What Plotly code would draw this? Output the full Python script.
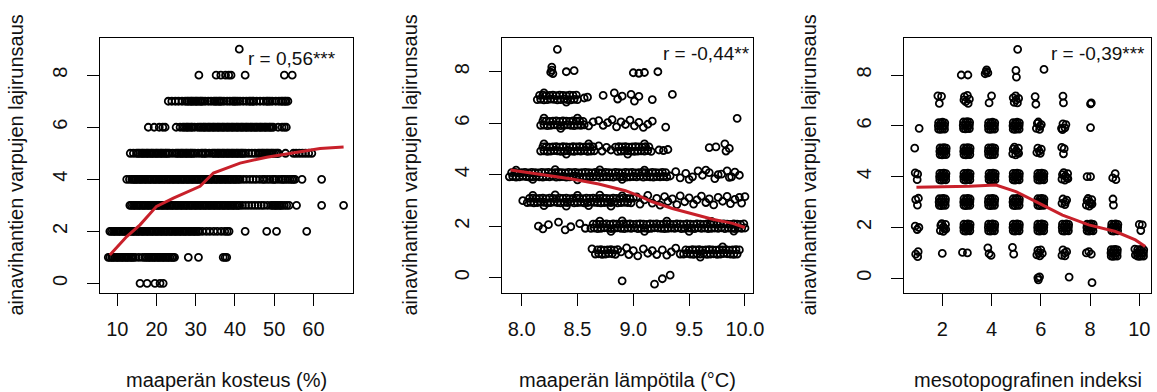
import plotly.graph_objects as go

W, H = 1157, 392

# ================= Panel 1: soil moisture (%) vs. richness (one x-list per richness level)
P1_LEVELS = [0, 1, 2, 3, 4, 5, 6, 7, 8, 9]
P1_X_R0 = [15.8, 17.6, 19.6, 20.9, 21.7]
P1_X_R1 = [7.7, 8.1, 8.6, 8.9, 9.3, 9.8, 10.1, 10.5, 11.0, 11.3, 11.7, 12.2, 12.5, 12.9, 13.4,
           13.7, 14.1, 14.6, 15.5, 16.4, 17.0, 17.4, 17.9, 18.2, 18.6, 19.1, 19.4, 19.8, 20.3,
           20.6, 21.0, 21.5, 21.8, 22.2, 22.7, 23.0, 23.4, 23.9, 24.2, 24.6, 28.1, 30.7, 37.0,
           37.5, 37.9]
P1_X_R2 = [8.1, 8.5, 9.0, 9.3, 9.7, 10.2, 10.5, 10.9, 11.4, 11.7, 12.1, 12.6, 12.9, 13.3, 13.8,
           14.1, 14.5, 15.0, 15.3, 15.7, 16.2, 16.5, 16.9, 17.4, 17.7, 18.1, 18.6, 18.9, 19.3,
           19.8, 20.1, 20.5, 21.0, 21.3, 21.7, 22.2, 22.5, 22.9, 23.4, 23.7, 24.1, 24.6, 24.9,
           25.3, 25.8, 26.1, 26.5, 27.0, 27.3, 27.7, 28.2, 28.5, 28.9, 29.4, 29.7, 30.1, 30.6,
           30.9, 31.7, 32.7, 33.6, 34.6, 35.5, 36.5, 37.4, 38.0, 38.5, 42.6, 48.1, 50.6, 58.3]
P1_X_R3 = [13.2, 13.6, 14.1, 14.4, 14.8, 15.3, 15.6, 16.0, 16.5, 16.8, 17.2, 17.7, 18.0, 18.4,
           18.9, 19.2, 19.6, 20.1, 20.4, 20.8, 21.3, 21.6, 22.0, 22.5, 22.8, 23.2, 23.7, 24.0,
           24.4, 24.9, 25.2, 25.6, 26.1, 26.4, 26.8, 27.3, 27.6, 28.0, 28.5, 28.8, 29.2, 29.7,
           30.0, 30.4, 30.9, 31.2, 31.6, 32.1, 32.4, 32.8, 33.3, 33.6, 34.0, 34.5, 34.8, 35.2,
           35.7, 36.0, 36.4, 36.9, 37.2, 37.6, 38.1, 38.4, 38.8, 39.3, 39.6, 40.0, 40.5, 40.8,
           41.2, 41.9, 42.7, 43.5, 44.3, 45.1, 45.9, 46.7, 47.4, 48.3, 49.2, 49.6, 50.1, 50.4,
           50.8, 51.3, 51.6, 52.0, 52.6, 53.2, 53.8, 55.7, 62.1, 67.7]
P1_X_R4 = [12.4, 13.1, 13.7, 14.1, 14.5, 14.8, 15.2, 15.7, 16.0, 16.4, 16.9, 17.2, 17.6, 18.1,
           18.4, 18.8, 19.3, 19.6, 20.0, 20.5, 20.8, 21.2, 21.7, 22.0, 22.4, 22.9, 23.2, 23.6,
           24.1, 24.4, 24.8, 25.3, 25.6, 26.0, 26.5, 26.8, 27.2, 27.7, 28.0, 28.4, 28.9, 29.2,
           29.6, 30.1, 30.4, 30.8, 31.3, 31.6, 32.0, 32.5, 32.8, 33.2, 33.7, 34.0, 34.4, 34.9,
           35.2, 35.6, 36.1, 36.4, 36.8, 37.3, 37.6, 38.0, 38.5, 38.8, 39.2, 39.7, 40.0, 40.4,
           40.9, 41.3, 42.1, 42.9, 43.8, 44.6, 45.4, 46.3, 47.1, 47.5, 48.2, 48.9, 49.6, 50.0,
           50.4, 51.2, 51.9, 52.3, 52.8, 53.4, 54.0, 54.5, 54.9, 55.3, 57.1, 62.1]
P1_X_R5 = [13.3, 14.1, 14.9, 15.3, 15.7, 16.2, 16.5, 16.9, 17.4, 17.7, 18.1, 18.6, 18.9, 19.3,
           19.8, 20.1, 20.5, 21.0, 21.3, 21.7, 22.2, 22.5, 22.9, 23.3, 24.1, 24.9, 25.3, 25.7,
           26.2, 26.5, 26.9, 27.4, 27.7, 28.1, 28.6, 28.9, 29.3, 29.8, 30.6, 31.4, 31.8, 32.3,
           32.6, 33.4, 34.2, 34.6, 35.0, 35.5, 35.8, 36.2, 36.7, 37.0, 37.4, 37.9, 38.2, 38.6,
           39.1, 39.4, 39.8, 40.3, 40.6, 41.0, 41.5, 41.8, 42.2, 42.7, 43.5, 44.3, 45.1, 45.9,
           46.3, 46.8, 47.1, 47.5, 48.0, 48.3, 48.7, 49.2, 49.5, 49.9, 50.4, 50.8, 51.1, 52.9,
           54.9, 55.6, 56.4, 57.2, 58.0, 58.8, 59.6]
P1_X_R6 = [17.9, 19.4, 20.7, 21.6, 22.2, 25.0, 26.0, 26.7, 27.1, 27.6, 27.9, 28.3, 28.8, 29.1,
           29.7, 30.5, 31.0, 31.4, 31.9, 32.2, 32.6, 33.1, 33.4, 33.8, 34.3, 34.6, 35.0, 35.5,
           35.8, 36.2, 36.7, 37.0, 37.4, 37.9, 38.2, 38.6, 39.1, 39.4, 39.8, 40.3, 40.6, 41.0,
           41.5, 41.8, 42.2, 42.7, 43.0, 43.4, 43.9, 44.2, 44.6, 45.1, 45.4, 45.8, 46.3, 46.6,
           47.0, 47.5, 47.8, 48.2, 48.7, 49.0, 49.4, 49.8, 51.0, 52.0, 52.6, 53.1]
P1_X_R7 = [23.0, 23.9, 24.8, 25.6, 26.5, 27.3, 27.8, 28.2, 28.7, 29.0, 29.4, 29.9, 30.2, 30.6,
           31.1, 31.4, 31.8, 32.4, 33.2, 33.9, 34.6, 35.0, 35.4, 35.9, 36.2, 36.6, 37.2, 38.0,
           38.7, 39.4, 39.8, 40.2, 40.7, 41.3, 42.1, 42.9, 43.6, 44.0, 44.5, 44.8, 45.5, 46.4,
           47.3, 48.0, 48.4, 48.9, 49.5, 50.4, 51.2, 51.8, 52.2, 52.7, 53.0, 53.5]
P1_X_R8 = [30.8, 35.2, 36.4, 37.6, 38.4, 39.0, 42.6, 52.6, 54.6]
P1_X_R9 = [41.1]
P1_SMOOTH_X = [8.1, 12.4, 15.8, 20.0, 24.3, 31.1, 34.5, 41.3, 48.1, 54.9, 61.7, 67.7]
P1_SMOOTH_Y = [1.09, 1.80, 2.25, 2.96, 3.28, 3.73, 4.24, 4.62, 4.85, 5.01, 5.18, 5.24]

# ================= Panel 2: soil temperature (°C) vs. richness (jittered)
# dense bands as x / y lists, scattered points as (x, y) pairs
P2_R1_X = [8.66, 8.68, 8.69, 8.71, 8.72, 8.74, 8.75, 8.77, 8.78, 8.80,
           8.81, 8.83, 8.84, 8.86, 9.45, 9.47, 9.48, 9.50, 9.51, 9.53,
           9.54, 9.56, 9.57, 9.59, 9.60, 9.62, 9.63, 9.65, 9.66, 9.68,
           9.69, 9.71, 9.72, 9.74, 9.75, 9.77, 9.78, 9.80, 9.81, 9.83,
           9.84, 9.86, 9.87, 9.89, 9.90, 9.92, 9.93, 9.95]
P2_R1_Y = [0.92, 1.08, 0.93, 1.09, 0.91, 1.07, 0.92, 1.08, 0.94, 1.09,
           0.93, 1.07, 0.91, 1.09, 0.92, 1.08, 0.94, 1.07, 0.92, 1.09,
           0.91, 1.08, 0.93, 1.09, 0.92, 1.07, 0.94, 1.08, 0.91, 1.09,
           0.92, 1.08, 0.93, 1.07, 0.91, 1.09, 0.92, 1.08, 0.94, 1.09,
           0.93, 1.07, 0.92, 1.08, 0.91, 1.09, 0.92, 1.08]
P2_R1_PTS = [(8.63, 1.12), (8.89, 1.00), (8.94, 1.16), (8.96, 0.90), (9.00, 1.05), (9.04, 0.85),
             (9.09, 1.12), (9.13, 0.95), (9.17, 1.05), (9.21, 0.90), (9.26, 1.08), (9.30, 0.88),
             (9.34, 1.00), (9.38, 1.15), (9.42, 0.92), (9.60, 0.80), (9.80, 1.20)]
P2_R2_X = [8.62, 8.64, 8.65, 8.67, 8.68, 8.70, 8.71, 8.73, 8.74, 8.76,
           8.77, 8.79, 8.80, 8.82, 8.83, 8.85, 8.86, 8.88, 8.89, 8.91,
           8.92, 8.94, 8.95, 8.97, 8.98, 9.00, 9.01, 9.03, 9.04, 9.06,
           9.07, 9.09, 9.10, 9.12, 9.13, 9.15, 9.16, 9.18, 9.19, 9.21,
           9.22, 9.24, 9.25, 9.27, 9.28, 9.30, 9.31, 9.33, 9.34, 9.36,
           9.37, 9.39, 9.40, 9.42, 9.43, 9.45, 9.46, 9.48, 9.49, 9.51,
           9.52, 9.54, 9.55, 9.57, 9.58, 9.60, 9.61, 9.63, 9.64, 9.66,
           9.67, 9.69, 9.70, 9.72, 9.73, 9.75, 9.76, 9.78, 9.79, 9.81,
           9.82, 9.84, 9.85, 9.87, 9.88, 9.90, 9.91, 9.93, 9.94, 9.96,
           9.97, 9.99, 10.00]
P2_R2_Y = [1.92, 2.08, 1.93, 2.09, 1.91, 2.07, 1.92, 2.08, 1.94, 2.09,
           1.93, 2.07, 1.91, 2.09, 1.92, 2.08, 1.94, 2.07, 1.92, 2.09,
           1.91, 2.08, 1.93, 2.09, 1.92, 2.07, 1.94, 2.08, 1.91, 2.09,
           1.92, 2.08, 1.93, 2.07, 1.91, 2.09, 1.92, 2.08, 1.94, 2.09,
           1.93, 2.07, 1.92, 2.08, 1.91, 2.09, 1.92, 2.08, 1.93, 2.07,
           1.92, 2.09, 1.94, 2.08, 1.91, 2.07, 1.92, 2.09, 1.93, 2.08,
           1.92, 2.07, 1.91, 2.09, 1.94, 2.08, 1.92, 2.07, 1.93, 2.09,
           1.91, 2.08, 1.92, 2.09, 1.93, 2.07, 1.92, 2.08, 1.94, 2.09,
           1.91, 2.08, 1.93, 2.07, 1.92, 2.09, 1.91, 2.08, 1.93, 2.07,
           1.92, 2.09, 1.93]
P2_R2_PTS = [(8.15, 2.00), (8.19, 1.90), (8.24, 2.06), (8.33, 2.16), (8.39, 1.86), (8.44, 1.98),
             (8.52, 2.10), (8.57, 1.92), (8.70, 2.20), (8.80, 1.80), (8.90, 2.21), (9.10, 1.80),
             (9.30, 2.20), (9.50, 1.80), (9.70, 2.19), (9.90, 1.81)]
P2_R3_X = [8.05, 8.07, 8.08, 8.10, 8.11, 8.13, 8.14, 8.16, 8.17, 8.19,
           8.20, 8.22, 8.23, 8.25, 8.26, 8.28, 8.29, 8.31, 8.32, 8.34,
           8.35, 8.37, 8.38, 8.40, 8.41, 8.43, 8.44, 8.46, 8.47, 8.49,
           8.50, 8.52, 8.53, 8.55, 8.56, 8.58, 8.59, 8.61, 8.62, 8.64,
           8.65, 8.67, 8.68, 8.70, 8.71, 8.73, 8.74, 8.76, 8.77, 8.79,
           8.80, 8.82, 8.83, 8.85, 8.86, 8.88, 8.89, 8.91, 8.92, 8.94,
           8.95, 8.97, 8.98, 9.00]
P2_R3_Y = [2.92, 3.08, 2.93, 3.09, 2.91, 3.07, 2.92, 3.08, 2.94, 3.09,
           2.93, 3.07, 2.91, 3.09, 2.92, 3.08, 2.94, 3.07, 2.92, 3.09,
           2.91, 3.08, 2.93, 3.09, 2.92, 3.07, 2.94, 3.08, 2.91, 3.09,
           2.92, 3.08, 2.93, 3.07, 2.91, 3.09, 2.92, 3.08, 2.94, 3.09,
           2.93, 3.07, 2.92, 3.08, 2.91, 3.09, 2.92, 3.08, 2.93, 3.07,
           2.92, 3.09, 2.94, 3.08, 2.91, 3.07, 2.92, 3.09, 2.93, 3.08,
           2.92, 3.07, 2.91, 3.09]
P2_R3_PTS = [(8.01, 2.99), (8.10, 3.20), (8.20, 2.80), (8.30, 3.22), (8.40, 2.78), (8.50, 3.20),
             (8.60, 2.80), (8.70, 3.21), (8.80, 2.78), (8.90, 3.18),
             (9.03, 3.14), (9.06, 2.86), (9.10, 3.02), (9.13, 3.20), (9.17, 2.90), (9.21, 3.08),
             (9.24, 2.82), (9.28, 3.15), (9.31, 2.96), (9.35, 3.06), (9.39, 2.84), (9.42, 3.18),
             (9.46, 2.95), (9.50, 3.10), (9.54, 2.86), (9.57, 3.02), (9.61, 3.17), (9.65, 2.92),
             (9.68, 3.06), (9.72, 2.83), (9.76, 3.12), (9.80, 2.97), (9.84, 3.16), (9.87, 2.88),
             (9.91, 3.04), (9.95, 3.12), (9.97, 2.90), (10.00, 3.15)]
P2_R4_X = [7.89, 7.91, 7.92, 7.94, 7.95, 7.97, 7.98, 8.00, 8.01, 8.03,
           8.04, 8.06, 8.07, 8.09, 8.10, 8.12, 8.13, 8.15, 8.16, 8.18,
           8.19, 8.21, 8.22, 8.24, 8.25, 8.27, 8.28, 8.30, 8.31, 8.33,
           8.34, 8.36, 8.37, 8.39, 8.40, 8.42, 8.43, 8.45, 8.46, 8.48,
           8.49, 8.51, 8.52, 8.54, 8.55, 8.57, 8.58, 8.60, 8.61, 8.63,
           8.64, 8.66, 8.67, 8.69, 8.70, 8.72, 8.73, 8.75, 8.76, 8.78,
           8.79, 8.81, 8.82, 8.84, 8.85, 8.87, 8.88, 8.90, 8.91, 8.93,
           8.94, 8.96, 8.97, 8.99, 9.00, 9.02, 9.03, 9.05, 9.06, 9.08,
           9.09, 9.11, 9.12, 9.14, 9.15, 9.17, 9.18, 9.20, 9.21, 9.23,
           9.24, 9.26, 9.27, 9.29, 9.30]
P2_R4_Y = [3.92, 4.08, 3.93, 4.09, 3.91, 4.07, 3.92, 4.08, 3.94, 4.09,
           3.93, 4.07, 3.91, 4.09, 3.92, 4.08, 3.94, 4.07, 3.92, 4.09,
           3.91, 4.08, 3.93, 4.09, 3.92, 4.07, 3.94, 4.08, 3.91, 4.09,
           3.92, 4.08, 3.93, 4.07, 3.91, 4.09, 3.92, 4.08, 3.94, 4.09,
           3.93, 4.07, 3.92, 4.08, 3.91, 4.09, 3.92, 4.08, 3.93, 4.07,
           3.92, 4.09, 3.94, 4.08, 3.91, 4.07, 3.92, 4.09, 3.93, 4.08,
           3.92, 4.07, 3.91, 4.09, 3.94, 4.08, 3.92, 4.07, 3.93, 4.09,
           3.91, 4.08, 3.92, 4.09, 3.93, 4.07, 3.92, 4.08, 3.94, 4.09,
           3.91, 4.08, 3.93, 4.07, 3.92, 4.09, 3.91, 4.08, 3.93, 4.07,
           3.92, 4.09, 3.93, 4.08, 3.92]
P2_R4_PTS = [(7.95, 4.18), (8.10, 3.82), (8.30, 4.20), (8.50, 3.80), (8.70, 4.19), (8.90, 3.82),
             (9.10, 4.18), (9.33, 3.95), (9.38, 4.12), (9.42, 3.88), (9.47, 4.05), (9.50, 3.82),
             (9.53, 3.92), (9.58, 4.15), (9.62, 3.98), (9.65, 4.18), (9.68, 4.08), (9.73, 3.85),
             (9.76, 4.00), (9.79, 4.02), (9.84, 4.15), (9.86, 3.90), (9.88, 3.92), (9.91, 4.10),
             (9.95, 3.98)]
P2_R5_X = [8.17, 8.19, 8.20, 8.22, 8.23, 8.25, 8.26, 8.28, 8.29, 8.31,
           8.32, 8.34, 8.35, 8.37, 8.38, 8.40, 8.41, 8.43, 8.44, 8.46,
           8.47, 8.49, 8.50, 8.52, 8.53, 8.55, 8.56, 8.58, 8.59, 8.61,
           8.62, 8.64, 8.65, 8.84, 8.86, 8.87, 8.89, 8.90, 8.92, 8.93,
           8.95, 8.96, 8.98, 8.99, 9.01, 9.02, 9.04, 9.05, 9.07, 9.08,
           9.10, 9.11, 9.13, 9.14, 9.16]
P2_R5_Y = [4.92, 5.08, 4.93, 5.09, 4.91, 5.07, 4.92, 5.08, 4.94, 5.09,
           4.93, 5.07, 4.91, 5.09, 4.92, 5.08, 4.94, 5.07, 4.92, 5.09,
           4.91, 5.08, 4.93, 5.09, 4.92, 5.07, 4.94, 5.08, 4.91, 5.09,
           4.92, 5.08, 4.93, 5.07, 4.91, 5.09, 4.92, 5.08, 4.94, 5.09,
           4.93, 5.07, 4.92, 5.08, 4.91, 5.09, 4.92, 5.08, 4.93, 5.07,
           4.92, 5.09, 4.94, 5.08, 4.91]
P2_R5_PTS = [(8.69, 5.12), (8.72, 4.92), (8.76, 5.06), (8.80, 4.96), (9.23, 4.96), (9.27, 4.94),
             (9.31, 4.98), (9.68, 5.05), (9.74, 5.08), (9.82, 5.20), (9.83, 4.92), (9.86, 5.02),
             (8.20, 5.20), (8.40, 4.80), (8.60, 5.20), (8.95, 4.80), (9.10, 5.20)]
P2_R6_X = [8.17, 8.19, 8.20, 8.22, 8.23, 8.25, 8.26, 8.28, 8.29, 8.31,
           8.32, 8.34, 8.35, 8.37, 8.38, 8.40, 8.41, 8.43, 8.44, 8.46,
           8.47, 8.49, 8.50, 8.52, 8.53, 8.55, 8.56]
P2_R6_Y = [5.92, 6.08, 5.93, 6.09, 5.91, 6.07, 5.92, 6.08, 5.94, 6.09,
           5.93, 6.07, 5.91, 6.09, 5.92, 6.08, 5.94, 6.07, 5.92, 6.09,
           5.91, 6.08, 5.93, 6.09, 5.92, 6.07, 5.94]
P2_R6_PTS = [(8.20, 6.20), (8.35, 5.80), (8.50, 6.20), (8.60, 5.90), (8.64, 6.05), (8.69, 6.10),
             (8.73, 5.92), (8.77, 6.02), (8.81, 6.14), (8.85, 5.86), (8.89, 6.05), (8.93, 5.95),
             (8.97, 6.12), (9.01, 5.90), (9.05, 6.03), (9.09, 5.84), (9.13, 5.96), (9.17, 6.08),
             (9.29, 5.85), (9.93, 6.19)]
P2_R7_X = [8.14, 8.16, 8.17, 8.19, 8.20, 8.22, 8.23, 8.25, 8.26, 8.28,
           8.29, 8.31, 8.32, 8.34, 8.35, 8.37, 8.38, 8.40, 8.41, 8.43,
           8.44, 8.46, 8.47, 8.49, 8.50]
P2_R7_Y = [6.92, 7.08, 6.93, 7.09, 6.91, 7.07, 6.92, 7.08, 6.94, 7.09,
           6.93, 7.07, 6.91, 7.09, 6.92, 7.08, 6.94, 7.07, 6.92, 7.09,
           6.91, 7.08, 6.93, 7.09, 6.92]
P2_R7_PTS = [(8.56, 6.98), (8.59, 7.01), (8.73, 7.08), (8.83, 7.18), (8.86, 6.94), (8.90, 7.05),
             (8.98, 7.12), (9.01, 6.86), (9.05, 7.04), (9.17, 6.92), (9.35, 7.12), (8.20, 7.18),
             (8.40, 6.82)]
P2_OTHER_PTS = [(8.90, -0.12), (9.19, -0.25), (9.26, -0.04), (9.33, 0.10),
                (8.27, 8.18), (8.27, 8.06), (8.28, 7.93), (8.26, 7.98), (8.40, 8.00), (8.47, 8.04),
                (9.00, 7.96), (9.05, 7.94), (9.10, 7.97), (9.22, 8.00), (8.32, 8.87)]
P2_SMOOTH_X = [7.90, 8.27, 8.45, 8.69, 8.93, 9.05, 9.17, 9.35, 9.53, 9.71, 9.89, 10.00]
P2_SMOOTH_Y = [4.18, 3.96, 3.83, 3.64, 3.38, 3.18, 2.95, 2.69, 2.47, 2.27, 2.11, 1.95]

# ================= Panel 3: mesotopographic index vs. richness (both jittered), pairs per level
P3_R0 = [(5.88, 0.02), (5.95, 0.06), (5.90, -0.06), (7.15, 0.05), (8.08, -0.17)]
P3_R1 = [(0.92, 0.95), (1.02, 1.05), (1.00, 0.85), (2.00, 0.98), (2.82, 1.02), (3.02, 1.00),
         (3.85, 1.20), (3.90, 0.97), (3.98, 0.90), (4.85, 1.22), (4.90, 0.95),
         (5.84, 0.92), (5.96, 0.88), (6.06, 0.98), (5.88, 1.10), (6.00, 1.12), (5.92, 1.00),
         (6.86, 0.90), (6.98, 0.88), (7.05, 1.05), (6.90, 1.12), (6.97, 1.00),
         (7.85, 1.00), (7.95, 1.05), (8.05, 0.95),
         (8.86, 0.87), (8.94, 0.86), (9.02, 0.88), (9.10, 0.87), (8.85, 1.00), (8.94, 1.01),
         (9.03, 0.99), (9.10, 1.01), (8.86, 1.13), (8.95, 1.12), (9.02, 1.14), (9.11, 1.12),
         (9.93, 0.87), (10.01, 0.86), (10.09, 0.88), (10.17, 0.87), (9.92, 1.00), (10.01, 1.01),
         (10.10, 0.99), (10.17, 1.01), (9.93, 1.13), (10.02, 1.12), (10.09, 1.14), (10.18, 1.12),
         (9.82, 1.15), (9.84, 0.92)]
P3_R2 = [(0.90, 2.05), (1.05, 2.00), (0.98, 1.92),
         (1.92, 1.88), (2.04, 1.85), (2.14, 1.93), (1.94, 2.08), (2.05, 2.02), (2.13, 2.12),
         (1.98, 2.15), (2.08, 1.95),
         (2.88, 1.87), (2.96, 1.86), (3.04, 1.88), (3.12, 1.87), (2.87, 2.00), (2.96, 2.01),
         (3.05, 1.99), (3.12, 2.01), (2.88, 2.13), (2.97, 2.12), (3.04, 2.14), (3.13, 2.12),
         (3.88, 1.87), (3.96, 1.86), (4.04, 1.88), (4.12, 1.87), (3.87, 2.00), (3.96, 2.01),
         (4.05, 1.99), (4.12, 2.01), (3.88, 2.13), (3.97, 2.12), (4.04, 2.14), (4.13, 2.12),
         (4.88, 1.87), (4.96, 1.86), (5.04, 1.88), (5.12, 1.87), (4.87, 2.00), (4.96, 2.01),
         (5.05, 1.99), (5.12, 2.01), (4.88, 2.13), (4.97, 2.12), (5.04, 2.14), (5.13, 2.12),
         (5.88, 1.87), (5.96, 1.86), (6.04, 1.88), (6.12, 1.87), (5.87, 2.00), (5.96, 2.01),
         (6.05, 1.99), (6.12, 2.01), (5.88, 2.13), (5.97, 2.12), (6.04, 2.14), (6.13, 2.12),
         (6.88, 1.87), (6.96, 1.86), (7.04, 1.88), (7.12, 1.87), (6.87, 2.00), (6.96, 2.01),
         (7.05, 1.99), (7.12, 2.01), (6.88, 2.13), (6.97, 2.12), (7.04, 2.14), (7.13, 2.12),
         (7.88, 1.87), (7.96, 1.86), (8.04, 1.88), (8.12, 1.87), (7.87, 2.00), (7.96, 2.01),
         (8.05, 1.99), (8.12, 2.01), (7.88, 2.13), (7.97, 2.12), (8.04, 2.14), (8.13, 2.12),
         (8.88, 1.87), (8.96, 1.86), (9.04, 1.88), (9.12, 1.87), (8.87, 2.00), (8.96, 2.01),
         (9.05, 1.99), (9.12, 2.01), (8.88, 2.13), (8.97, 2.12), (9.04, 2.14), (9.13, 2.12),
         (10.00, 2.12), (10.12, 2.10), (10.06, 1.88)]
P3_R3 = [(0.92, 3.10), (1.03, 3.15), (0.99, 2.88),
         (1.88, 2.87), (1.96, 2.86), (2.04, 2.88), (2.12, 2.87), (1.87, 3.00), (1.96, 3.01),
         (2.05, 2.99), (2.12, 3.01), (1.88, 3.13), (1.97, 3.12), (2.04, 3.14), (2.13, 3.12),
         (2.88, 2.87), (2.96, 2.86), (3.04, 2.88), (3.12, 2.87), (2.87, 3.00), (2.96, 3.01),
         (3.05, 2.99), (3.12, 3.01), (2.88, 3.13), (2.97, 3.12), (3.04, 3.14), (3.13, 3.12),
         (3.88, 2.87), (3.96, 2.86), (4.04, 2.88), (4.12, 2.87), (3.87, 3.00), (3.96, 3.01),
         (4.05, 2.99), (4.12, 3.01), (3.88, 3.13), (3.97, 3.12), (4.04, 3.14), (4.13, 3.12),
         (4.88, 2.87), (4.96, 2.86), (5.04, 2.88), (5.12, 2.87), (4.87, 3.00), (4.96, 3.01),
         (5.05, 2.99), (5.12, 3.01), (4.88, 3.13), (4.97, 3.12), (5.04, 3.14), (5.13, 3.12),
         (5.88, 2.87), (5.96, 2.86), (6.04, 2.88), (6.12, 2.87), (5.87, 3.00), (5.96, 3.01),
         (6.05, 2.99), (6.12, 3.01), (5.88, 3.13), (5.97, 3.12), (6.04, 3.14), (6.13, 3.12),
         (6.86, 2.95), (6.98, 2.90), (7.05, 3.08), (6.90, 3.12), (7.00, 3.00),
         (7.85, 2.88), (7.97, 2.84), (8.08, 2.92), (7.88, 3.06), (7.99, 3.00), (8.07, 3.10),
         (7.92, 3.14), (8.03, 2.95),
         (8.93, 3.12), (8.95, 2.88)]
P3_R4 = [(0.90, 4.15), (1.00, 4.10), (0.98, 3.88),
         (1.90, 3.87), (1.98, 3.86), (2.06, 3.88), (2.14, 3.87), (1.89, 4.00), (1.98, 4.01),
         (2.07, 3.99), (2.14, 4.01), (1.90, 4.13), (1.99, 4.12), (2.06, 4.14), (2.15, 4.12),
         (2.88, 3.87), (2.96, 3.86), (3.04, 3.88), (3.12, 3.87), (2.87, 4.00), (2.96, 4.01),
         (3.05, 3.99), (3.12, 4.01), (2.88, 4.13), (2.97, 4.12), (3.04, 4.14), (3.13, 4.12),
         (3.90, 3.87), (3.98, 3.86), (4.06, 3.88), (4.14, 3.87), (3.89, 4.00), (3.98, 4.01),
         (4.07, 3.99), (4.14, 4.01), (3.90, 4.13), (3.99, 4.12), (4.06, 4.14), (4.15, 4.12),
         (4.88, 3.87), (4.96, 3.86), (5.04, 3.88), (5.12, 3.87), (4.87, 4.00), (4.96, 4.01),
         (5.05, 3.99), (5.12, 4.01), (4.88, 4.13), (4.97, 4.12), (5.04, 4.14), (5.13, 4.12),
         (5.88, 3.87), (5.96, 3.86), (6.04, 3.88), (6.12, 3.87), (5.87, 4.00), (5.96, 4.01),
         (6.05, 3.99), (6.12, 4.01), (5.88, 4.13), (5.97, 4.12), (6.04, 4.14), (6.13, 4.12),
         (6.86, 3.90), (6.98, 3.86), (7.10, 3.92), (6.88, 4.08), (7.00, 4.02), (7.09, 4.12),
         (6.93, 4.16), (7.06, 3.96),
         (7.88, 4.00), (8.02, 4.00), (8.92, 3.95), (9.02, 4.12), (9.05, 3.88)]
P3_R5 = [(0.88, 5.12),
         (1.91, 4.87), (1.99, 4.86), (2.07, 4.88), (2.15, 4.87), (1.90, 5.00), (1.99, 5.01),
         (2.08, 4.99), (2.15, 5.01), (1.91, 5.13), (2.00, 5.12), (2.07, 5.14), (2.16, 5.12),
         (2.88, 4.87), (2.96, 4.86), (3.04, 4.88), (3.12, 4.87), (2.87, 5.00), (2.96, 5.01),
         (3.05, 4.99), (3.12, 5.01), (2.88, 5.13), (2.97, 5.12), (3.04, 5.14), (3.13, 5.12),
         (3.88, 4.87), (3.96, 4.86), (4.04, 4.88), (4.12, 4.87), (3.87, 5.00), (3.96, 5.01),
         (4.05, 4.99), (4.12, 5.01), (3.88, 5.13), (3.97, 5.12), (4.04, 5.14), (4.13, 5.12),
         (4.86, 4.90), (4.98, 4.86), (5.10, 4.92), (4.88, 5.08), (5.00, 5.02), (5.09, 5.12),
         (4.93, 5.16), (5.06, 4.96),
         (5.84, 4.95), (5.98, 4.92), (6.02, 5.08), (5.88, 5.12), (5.94, 5.00),
         (6.85, 5.15), (6.95, 5.10), (6.92, 4.90)]
P3_R6 = [(1.06, 5.90),
         (1.85, 5.87), (1.93, 5.86), (2.01, 5.88), (2.09, 5.87), (1.84, 6.00), (1.93, 6.01),
         (2.02, 5.99), (2.09, 6.01), (1.85, 6.13), (1.94, 6.12), (2.01, 6.14), (2.10, 6.12),
         (2.86, 5.89), (2.94, 5.88), (3.02, 5.90), (3.10, 5.89), (2.85, 6.02), (2.94, 6.03),
         (3.03, 6.01), (3.10, 6.03), (2.86, 6.15), (2.95, 6.14), (3.02, 6.16), (3.11, 6.14),
         (3.88, 5.87), (3.96, 5.86), (4.04, 5.88), (4.12, 5.87), (3.87, 6.00), (3.96, 6.01),
         (4.05, 5.99), (4.12, 6.01), (3.88, 6.13), (3.97, 6.12), (4.04, 6.14), (4.13, 6.12),
         (4.88, 5.87), (4.96, 5.86), (5.04, 5.88), (5.12, 5.87), (4.87, 6.00), (4.96, 6.01),
         (5.05, 5.99), (5.12, 6.01), (4.88, 6.13), (4.97, 6.12), (5.04, 6.14), (5.13, 6.12),
         (5.82, 5.90), (5.95, 5.86), (6.02, 6.05), (5.86, 6.10), (5.97, 5.98), (5.90, 6.15),
         (6.84, 5.90), (6.98, 5.92), (6.90, 6.08), (7.02, 6.05), (6.88, 5.85),
         (8.02, 5.93)]
P3_R7 = [(1.82, 7.18), (1.97, 7.16), (1.88, 6.88),
         (2.90, 7.15), (3.02, 7.20), (3.10, 7.05), (2.95, 6.95), (3.05, 6.88), (2.88, 7.02),
         (3.90, 6.90), (4.00, 7.18),
         (4.88, 7.10), (4.98, 7.18), (5.10, 7.08), (4.92, 6.92), (5.05, 6.90), (5.00, 7.02),
         (5.77, 7.15), (5.80, 6.85), (6.90, 7.17), (6.92, 6.90), (8.02, 6.86), (8.05, 6.90)]
P3_R8 = [(2.77, 8.00), (3.04, 8.00), (3.78, 8.13), (3.85, 8.08), (3.80, 8.20), (3.74, 8.05),
         (4.99, 8.18), (5.01, 7.92), (6.13, 8.22)]
P3_R9 = [(5.06, 9.01)]
P3_SMOOTH_X = [0.95, 3.10, 4.18, 4.99, 5.80, 6.88, 7.95, 9.03, 9.84, 10.24]
P3_SMOOTH_Y = [3.58, 3.62, 3.67, 3.41, 3.02, 2.49, 2.10, 1.84, 1.51, 1.25]

# ================= Text
Y_TITLE = "ainavihantien varpujen lajirunsaus"
X_TITLES = ["maaperän kosteus (%)", "maaperän lämpötila (°C)", "mesotopografinen indeksi"]
R_LABELS = ["r = 0,56***", "r = -0,44**", "r = -0,39***"]
X_TICKS = [[10, 20, 30, 40, 50, 60], [8.0, 8.5, 9.0, 9.5, 10.0], [2, 4, 6, 8, 10]]
Y_TICKS = [0, 2, 4, 6, 8]

# ================= Layout geometry (pixels in the 1157x392 canvas)
BOX_X = [(100, 353), (502, 753), (904, 1151)]
BOX_Y = (38, 293)
X_RANGES = [[5.59, 70.1], [7.824, 10.072], [0.445, 10.475]]
Y_RANGES = [[-0.37, 9.43], [-0.594, 9.31], [-0.578, 9.456]]
Y_TITLE_X = [16, 410, 809]
R_POS = [(338, 58), (752, 53), (1147, 53)]

FONT = "Liberation Sans, Arial, Helvetica, sans-serif"
INK = "#111111"
RED = "#C8202A"
FS = 20


def collect(pair_rows, list_rows=()):
    xs, ys = [], []
    for lx, ly in list_rows:
        xs.extend(lx)
        ys.extend(ly)
    for row in pair_rows:
        for x, y in row:
            xs.append(x)
            ys.append(y)
    return xs, ys


p1_rows = [P1_X_R0, P1_X_R1, P1_X_R2, P1_X_R3, P1_X_R4, P1_X_R5, P1_X_R6, P1_X_R7, P1_X_R8, P1_X_R9]
p1_x, p1_y = [], []
for lvl, xs in zip(P1_LEVELS, p1_rows):
    p1_x.extend(xs)
    p1_y.extend([lvl] * len(xs))

p2_x, p2_y = collect(
    [P2_R1_PTS, P2_R2_PTS, P2_R3_PTS, P2_R4_PTS, P2_R5_PTS, P2_R6_PTS, P2_R7_PTS, P2_OTHER_PTS],
    [(P2_R1_X, P2_R1_Y), (P2_R2_X, P2_R2_Y), (P2_R3_X, P2_R3_Y), (P2_R4_X, P2_R4_Y),
     (P2_R5_X, P2_R5_Y), (P2_R6_X, P2_R6_Y), (P2_R7_X, P2_R7_Y)])
p3_x, p3_y = collect([P3_R0, P3_R1, P3_R2, P3_R3, P3_R4, P3_R5, P3_R6, P3_R7, P3_R8, P3_R9])

scatter_data = [(p1_x, p1_y), (p2_x, p2_y), (p3_x, p3_y)]
smooth_data = [(P1_SMOOTH_X, P1_SMOOTH_Y), (P2_SMOOTH_X, P2_SMOOTH_Y), (P3_SMOOTH_X, P3_SMOOTH_Y)]

fig = go.Figure()
marker = dict(symbol="circle-open", size=7.0, color="black", line=dict(width=1.8))

for i in range(3):
    xa = "x" if i == 0 else f"x{i + 1}"
    ya = "y" if i == 0 else f"y{i + 1}"
    sx, sy = scatter_data[i]
    fig.add_trace(go.Scatter(x=sx, y=sy, mode="markers", marker=marker,
                             xaxis=xa, yaxis=ya, showlegend=False, hoverinfo="skip"))
    lx, ly = smooth_data[i]
    fig.add_trace(go.Scatter(x=lx, y=ly, mode="lines", line=dict(color=RED, width=3),
                             xaxis=xa, yaxis=ya, showlegend=False, hoverinfo="skip"))

layout = dict(
    width=W, height=H, autosize=False,
    margin=dict(l=0, r=0, t=0, b=0, pad=0, autoexpand=False),
    paper_bgcolor="white", plot_bgcolor="white",
    font=dict(family=FONT, size=FS, color=INK),
    showlegend=False,
)

axis_common = dict(showline=True, linecolor="black", linewidth=1, mirror=True,
                   ticks="outside", ticklen=12, tickwidth=1, tickcolor="black",
                   showgrid=False, zeroline=False, automargin=False,
                   tickfont=dict(family=FONT, size=FS, color=INK))

annotations = []
for i in range(3):
    sfx = "" if i == 0 else str(i + 1)
    x0, x1 = BOX_X[i]
    layout["xaxis" + sfx] = dict(
        axis_common, domain=[x0 / W, x1 / W], range=X_RANGES[i],
        anchor="y" + sfx, tickmode="array", tickvals=X_TICKS[i],
        tickformat=".1f" if i == 1 else "d", ticklabelstandoff=6)
    layout["yaxis" + sfx] = dict(
        axis_common, domain=[1 - BOX_Y[1] / H, 1 - BOX_Y[0] / H], range=Y_RANGES[i],
        anchor="x" + sfx, tickmode="array", tickvals=Y_TICKS, tickangle=-90,
        ticklabelstandoff=12)
    annotations.append(dict(text=X_TITLES[i], xref="paper", yref="paper",
                            x=(x0 + x1) / 2 / W, y=1 - 379.8 / H,
                            xanchor="center", yanchor="middle", showarrow=False,
                            font=dict(family=FONT, size=FS, color=INK)))
    annotations.append(dict(text=Y_TITLE, xref="paper", yref="paper",
                            x=Y_TITLE_X[i] / W, y=1 - (BOX_Y[0] + BOX_Y[1]) / 2 / H,
                            xanchor="center", yanchor="middle", textangle=-90, showarrow=False,
                            font=dict(family=FONT, size=FS, color=INK)))
    rx, ry = R_POS[i]
    annotations.append(dict(text=R_LABELS[i], xref="paper", yref="paper",
                            x=rx / W, y=1 - ry / H, xanchor="right", yanchor="middle",
                            showarrow=False, font=dict(family=FONT, size=19, color=INK)))

layout["annotations"] = annotations
fig.update_layout(**layout)

fig.write_html(
    "out.html",
    config={"displayModeBar": False, "responsive": False},
    post_script="document.body.style.margin='0';document.body.style.padding='0';"
                "document.body.style.overflow='hidden';",
)
